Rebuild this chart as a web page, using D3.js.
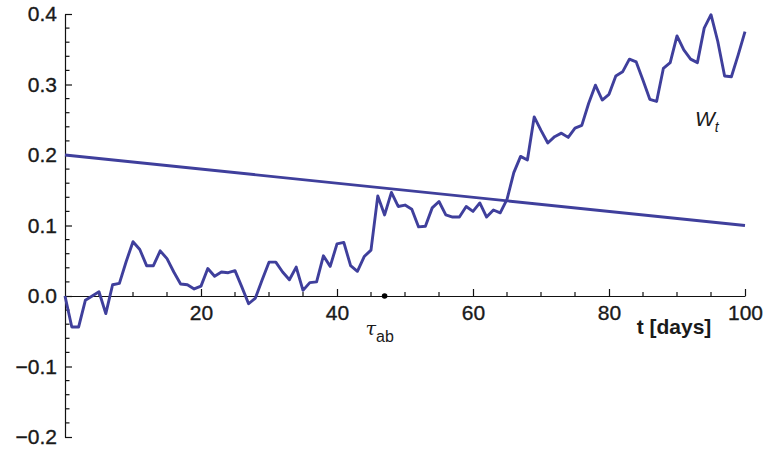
<!DOCTYPE html>
<html>
<head>
<meta charset="utf-8">
<script src="https://cdn.jsdelivr.net/npm/d3@7"></script>
<style>
  html, body { margin: 0; padding: 0; background: #fff; }
  svg { display: block; }
  text { font-family: "Liberation Sans", Arial, sans-serif; fill: #1a1a1a; }
</style>
</head>
<body>
<svg id="chart" width="763" height="450"></svg>
<script>
// Daily path of the process W_t, t = 0 .. 100 days
const days = d3.range(0, 101);
const walk = [
  0.000, -0.044, -0.044, -0.006, 0.000, 0.006, -0.025, 0.016, 0.018, 0.049,
  0.077, 0.066, 0.043, 0.043, 0.064, 0.053, 0.034, 0.017, 0.016, 0.010,
  0.014, 0.039, 0.028, 0.034, 0.033, 0.036, 0.013, -0.011, -0.003, 0.023,
  0.048, 0.048, 0.034, 0.023, 0.041, 0.008, 0.019, 0.020, 0.057, 0.042,
  0.074, 0.076, 0.043, 0.035, 0.056, 0.065, 0.142, 0.115, 0.147, 0.127,
  0.129, 0.123, 0.098, 0.099, 0.125, 0.134, 0.115, 0.112, 0.112, 0.127,
  0.120, 0.132, 0.112, 0.122, 0.118, 0.137, 0.175, 0.198, 0.193, 0.254,
  0.235, 0.217, 0.226, 0.231, 0.225, 0.238, 0.242, 0.273, 0.299, 0.278,
  0.286, 0.312, 0.318, 0.336, 0.332, 0.306, 0.279, 0.276, 0.323, 0.331,
  0.369, 0.349, 0.336, 0.331, 0.380, 0.399, 0.361, 0.312, 0.311, 0.342,
  0.375
];

// Linear boundary from (0, 0.2) to (100, 0.1)
const boundaryT = [0, 100];
const boundaryV = [0.2, 0.1];

// First crossing time marked on the time axis
const tauAb = 47;

// Axis ticks
const xMajorTicks = [20, 40, 60, 80, 100];
const xMinorTicks = d3.range(5, 100, 5).filter(d => d % 20 !== 0);
const yMajorTicks = [-0.2, -0.1, 0.0, 0.1, 0.2, 0.3, 0.4];
const yMinorTicks = d3.range(-20, 41, 2).map(d => d / 100).filter(d => Math.round(d * 100) % 10 !== 0);

const lineColor = "#3f3f9c";
const inkColor = "#1a1a1a";

const svg = d3.select("#chart");
const x = d3.scaleLinear().domain([0, 100]).range([65, 745]);
const y = d3.scaleLinear().domain([-0.2, 0.4]).range([437, 14]);

function styleLabels(sel) {
  sel.attr("font-size", 21).attr("fill", inkColor)
    .attr("stroke", inkColor).attr("stroke-width", 0.35)
    .attr("font-family", "'Liberation Sans', Arial, sans-serif");
}

// Y axis (ticks pointing inward)
const yAxis = svg.append("g").attr("transform", `translate(${x(0)},0)`)
  .call(d3.axisLeft(y).tickValues(yMajorTicks).tickSize(-7).tickSizeOuter(0).tickPadding(8)
    .tickFormat(d => (d < 0 ? "\u22120." : "0.") + Math.round(Math.abs(d) * 10)));
yAxis.select(".domain").attr("stroke", "#111").attr("stroke-width", 1.2);
yAxis.selectAll(".tick line").attr("stroke", "#111").attr("stroke-width", 1.2);
yAxis.selectAll(".tick text").call(styleLabels);

svg.append("g").selectAll("line").data(yMinorTicks).join("line")
  .attr("x1", x(0)).attr("x2", x(0) + 4.5)
  .attr("y1", d => y(d)).attr("y2", d => y(d))
  .attr("stroke", "#111").attr("stroke-width", 1.2);

// X axis along v = 0
const xAxis = svg.append("g").attr("transform", `translate(0,${y(0)})`)
  .call(d3.axisBottom(x).tickValues(xMajorTicks).tickSize(-7).tickSizeOuter(0).tickPadding(9));
xAxis.select(".domain").attr("stroke", "#111").attr("stroke-width", 1.2);
xAxis.selectAll(".tick line").attr("stroke", "#111").attr("stroke-width", 1.2);
xAxis.selectAll(".tick text").call(styleLabels);

svg.append("g").selectAll("line").data(xMinorTicks).join("line")
  .attr("x1", d => x(d)).attr("x2", d => x(d))
  .attr("y1", y(0)).attr("y2", y(0) - 4)
  .attr("stroke", "#111").attr("stroke-width", 1.2);

// Boundary line
svg.append("path")
  .datum(boundaryT.map((t, i) => [t, boundaryV[i]]))
  .attr("d", d3.line().x(d => x(d[0])).y(d => y(d[1])))
  .attr("fill", "none").attr("stroke", lineColor).attr("stroke-width", 2.9);

// Path of W_t
svg.append("path")
  .datum(days.map((t, i) => [t, walk[i]]))
  .attr("d", d3.line().x(d => x(d[0])).y(d => y(d[1])))
  .attr("fill", "none").attr("stroke", lineColor).attr("stroke-width", 2.9)
  .attr("stroke-linejoin", "round");

// Crossing time marker
svg.append("circle").attr("cx", x(tauAb)).attr("cy", y(0)).attr("r", 2.8).attr("fill", "#000");

const tauLabel = svg.append("text").attr("x", x(tauAb) - 19).attr("y", 335).attr("font-size", 19);
tauLabel.append("tspan").attr("font-style", "italic").attr("font-family", "'DejaVu Serif', serif").text("\u03c4");
tauLabel.append("tspan").attr("dy", 7).attr("font-size", 16).text("ab");

// Axis title
svg.append("text").attr("x", 674).attr("y", 334).attr("text-anchor", "middle")
  .attr("font-size", 21).attr("font-weight", "bold").text("t [days]");

// Series label
const wLabel = svg.append("text").attr("x", 695).attr("y", 126).attr("font-size", 21).attr("font-style", "italic");
wLabel.append("tspan").text("W");
wLabel.append("tspan").attr("dy", 6).attr("font-size", 14).text("t");
</script>
</body>
</html>
